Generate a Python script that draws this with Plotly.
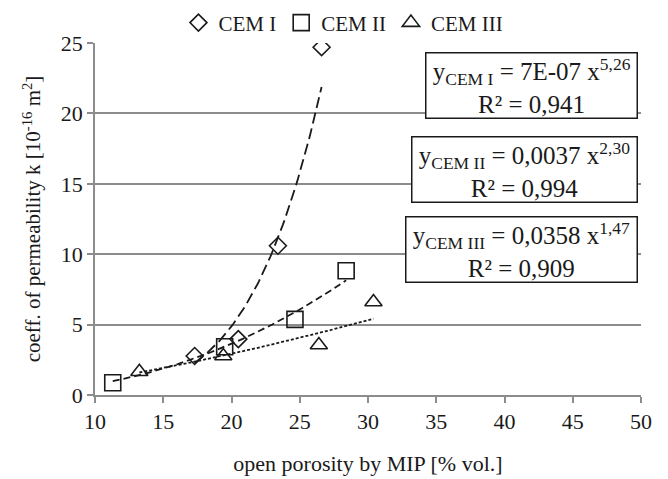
import numpy as np
import plotly.graph_objects as go

# ---- data ----
cem1_x = [17.3, 20.5, 23.4, 26.6]
cem1_y = [2.77, 3.97, 10.6, 24.7]
cem2_x = [11.3, 19.5, 24.65, 28.4]
cem2_y = [0.87, 3.43, 5.37, 8.82]
cem3_x = [13.25, 19.4, 26.4, 30.4]
cem3_y = [1.65, 2.77, 3.55, 6.6]

# power-law trendline coefficients as printed on the chart (y = a * x^b)
fit_a = [7e-07, 0.0037, 0.0358]
fit_b = [5.26, 2.30, 1.47]
fit_a_txt = ["7E-07", "0,0037", "0,0358"]
fit_b_txt = ["5,26", "2,30", "1,47"]
fit_r2 = ["0,941", "0,994", "0,909"]
series_names = ["CEM I", "CEM II", "CEM III"]

x_ticks = [10, 15, 20, 25, 30, 35, 40, 45, 50]
y_ticks = [0, 5, 10, 15, 20, 25]

FONT = "Liberation Serif"
INK = "#1a1a1a"
GRID = "#8c8c8c"

fig = go.Figure()

xs = [cem1_x, cem2_x, cem3_x]
ys = [cem1_y, cem2_y, cem3_y]
symbols = ["diamond-open", "square-open", "triangle-up-open"]
msizes = [13, 16, 15]
dashes = ["11px,5px", "7px,4px", "3px,2px"]

# trendlines
for i in range(3):
    tx = np.linspace(min(xs[i]), max(xs[i]), 80)
    ty = fit_a[i] * tx ** fit_b[i]
    fig.add_trace(go.Scatter(x=tx, y=ty, mode="lines",
                             line=dict(color=INK, width=1.8, dash=dashes[i]),
                             showlegend=False, hoverinfo="skip"))

# markers
for i in range(3):
    fig.add_trace(go.Scatter(x=xs[i], y=ys[i], mode="markers", name=series_names[i],
                             marker=dict(symbol=symbols[i], size=msizes[i],
                                         color=INK, line=dict(color=INK, width=1.6))))

# equation boxes
box_y = [0.878, 0.641, 0.412]
for i in range(3):
    txt = (f"&nbsp;y<sub>{series_names[i]}</sub> = {fit_a_txt[i]} x<sup>{fit_b_txt[i]}</sup>&nbsp;"
           f"<br>R² = {fit_r2[i]}")
    fig.add_annotation(xref="paper", yref="paper", x=0.995, y=box_y[i],
                       xanchor="right", yanchor="middle", text=txt, showarrow=False,
                       font=dict(family=FONT, size=25, color=INK),
                       bgcolor="white", bordercolor=INK, borderwidth=1.5, borderpad=0,
                       align="center")

fig.update_layout(
    width=660, height=471,
    margin=dict(l=87, r=27, t=35, b=84, autoexpand=False),
    paper_bgcolor="white", plot_bgcolor="white",
    font=dict(family=FONT, size=20, color=INK),
    legend=dict(orientation="h", x=0.455, xanchor="center", y=1.057, yanchor="middle",
                font=dict(family=FONT, size=21, color=INK), itemwidth=30,
                bgcolor="rgba(0,0,0,0)", tracegroupgap=0),
    xaxis=dict(range=[10, 50], tickvals=x_ticks, showgrid=False, zeroline=False,
               showline=True, linecolor=GRID, linewidth=1.5, ticks="outside",
               ticklen=6, tickcolor=GRID, tickwidth=1.5,
               tickfont=dict(family=FONT, size=22, color=INK),
               title=dict(text="open porosity by MIP [% vol.]", standoff=22,
                          font=dict(family=FONT, size=22, color=INK))),
    yaxis=dict(range=[0, 25], tickvals=y_ticks, showgrid=True, gridcolor=GRID,
               gridwidth=1.5, zeroline=False, showline=True, linecolor=GRID,
               linewidth=1.5, ticks="outside", ticklen=6, tickcolor=GRID, tickwidth=1.5,
               tickfont=dict(family=FONT, size=22, color=INK),
               title=dict(text="coeff. of permeability k [10<sup>-16</sup> m<sup>2</sup>]",
                          standoff=14, font=dict(family=FONT, size=21, color=INK))),
)

fig.write_html("out.html")
